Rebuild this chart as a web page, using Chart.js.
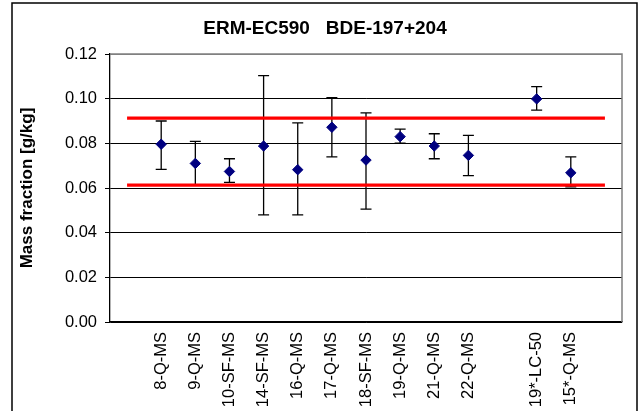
<!DOCTYPE html>
<html>
<head>
<meta charset="utf-8">
<title>ERM-EC590 BDE-197+204</title>
<script src="https://cdn.jsdelivr.net/npm/chart.js@4"></script>
<style>
  html, body { margin: 0; padding: 0; background: #fff; }
  canvas { display: block; }
</style>
</head>
<body>
<canvas id="massChart" width="641" height="411"></canvas>
<script>
// Labs along the x axis (blank slots leave the gaps)
const labs = ['', '8-Q-MS', '9-Q-MS', '10-SF-MS', '14-SF-MS', '16-Q-MS', '17-Q-MS',
  '18-SF-MS', '19-Q-MS', '21-Q-MS', '22-Q-MS', '', '19*-LC-50', '15*-Q-MS', ''];

// Reported means and the ends of their uncertainty bars, g/kg
const means   = [null, 0.0796, 0.0710, 0.0674, 0.0788, 0.0682, 0.0872, 0.0725, 0.0830, 0.0788, 0.0746, null, 0.0999, 0.0668, null];
const errLow  = [null, 0.0683, 0.0612, 0.0625, 0.0480, 0.0480, 0.0739, 0.0505, 0.0801, 0.0731, 0.0655, null, 0.0949, 0.0605, null];
const errHigh = [null, 0.0900, 0.0809, 0.0731, 0.1103, 0.0892, 0.1004, 0.0936, 0.0864, 0.0843, 0.0836, null, 0.1054, 0.0739, null];

// Red limit lines
const upperLimit = [0.0913, 0.0913, 0.0913, 0.0913, 0.0913, 0.0913, 0.0913, 0.0913, 0.0913, 0.0913, 0.0913, 0.0913, 0.0913, 0.0913, 0.0913];
const lowerLimit = [0.0613, 0.0613, 0.0613, 0.0613, 0.0613, 0.0613, 0.0613, 0.0613, 0.0613, 0.0613, 0.0613, 0.0613, 0.0613, 0.0613, 0.0613];

const yTickLabels = ['0.00', '0.02', '0.04', '0.06', '0.08', '0.10', '0.12'];

Chart.defaults.font.family = 'Arial, "Liberation Sans", sans-serif';
Chart.defaults.color = '#000';

// outer frame + grey top/right edge of the plot
const framePlugin = {
  id: 'frame',
  beforeDraw(chart) {
    const ctx = chart.ctx;
    ctx.save();
    ctx.fillStyle = '#fff';
    ctx.fillRect(0, 0, chart.width, chart.height);
    ctx.strokeStyle = '#000';
    ctx.lineWidth = 1.5;
    ctx.beginPath();
    ctx.moveTo(12, chart.height + 2);
    ctx.lineTo(12, 3);
    ctx.lineTo(637, 3);
    ctx.lineTo(637, chart.height + 2);
    ctx.stroke();
    ctx.restore();
  },
  beforeDatasetsDraw(chart) {
    const {ctx, chartArea: a} = chart;
    ctx.save();
    ctx.strokeStyle = '#808080';
    ctx.lineWidth = 1.5;
    ctx.beginPath();
    ctx.moveTo(a.left, a.top);
    ctx.lineTo(a.right, a.top);
    ctx.lineTo(a.right, a.bottom);
    ctx.stroke();
    ctx.restore();
  }
};

// vertical error bars with caps, under the markers
const errorBarPlugin = {
  id: 'errorBars',
  beforeDatasetsDraw(chart) {
    const ctx = chart.ctx;
    const xs = chart.scales.x, ys = chart.scales.y;
    const cap = 5.5;
    ctx.save();
    ctx.strokeStyle = '#000';
    ctx.lineWidth = 1.3;
    means.forEach((m, i) => {
      if (m === null) return;
      const x = xs.getPixelForValue(i);
      const yLo = ys.getPixelForValue(errLow[i]);
      const yHi = ys.getPixelForValue(errHigh[i]);
      ctx.beginPath();
      ctx.moveTo(x, yLo); ctx.lineTo(x, yHi);
      ctx.moveTo(x - cap, yLo); ctx.lineTo(x + cap, yLo);
      ctx.moveTo(x - cap, yHi); ctx.lineTo(x + cap, yHi);
      ctx.stroke();
    });
    ctx.restore();
  }
};

new Chart(document.getElementById('massChart'), {
  type: 'line',
  data: {
    labels: labs,
    datasets: [
      {
        label: 'Mean',
        data: means,
        showLine: false,
        pointStyle: 'rectRot',
        pointRadius: 5.2,
        pointBackgroundColor: '#000080',
        pointBorderColor: '#000080',
        pointBorderWidth: 1
      },
      {
        label: 'Upper',
        data: upperLimit,
        borderColor: '#ff0000',
        borderWidth: 3.2,
        pointRadius: 0
      },
      {
        label: 'Lower',
        data: lowerLimit,
        borderColor: '#ff0000',
        borderWidth: 3.2,
        pointRadius: 0
      }
    ]
  },
  options: {
    responsive: false,
    animation: false,
    layout: { padding: { left: 9, right: 0, top: 0, bottom: 0 } },
    plugins: {
      legend: { display: false },
      tooltip: { enabled: false },
      title: {
        display: true,
        text: 'ERM-EC590   BDE-197+204',
        font: { size: 19, weight: 'bold' },
        color: '#000',
        padding: { top: 17.6, bottom: 13.6 }
      }
    },
    scales: {
      x: {
        type: 'category',
        offset: true,
        grid: { display: false, drawTicks: false },
        border: { color: '#000', width: 1.3 },
        ticks: {
          autoSkip: false,
          minRotation: 90,
          maxRotation: 90,
          padding: 10,
          font: { size: 16.5 }
        },
        afterFit: s => { s.height = 89; }
      },
      y: {
        min: 0,
        max: 0.12,
        grid: {
          color: c => (c.tick && c.tick.value > 0.119 ? '#808080' : '#000'),
          tickColor: '#000',
          tickLength: 5,
          lineWidth: 1
        },
        border: { color: '#000', width: 1.3 },
        ticks: {
          stepSize: 0.02,
          padding: 8,
          font: { size: 16.5 },
          callback: (v, i) => yTickLabels[i]
        },
        title: {
          display: true,
          text: 'Mass fraction [g/kg]',
          font: { size: 17, weight: 'bold' },
          padding: { top: 8, bottom: 0 }
        },
        afterFit: s => { s.width = 101; }
      },
      y2: {
        position: 'right',
        display: true,
        grid: { display: false, drawTicks: false },
        border: { display: false },
        ticks: { display: false },
        afterFit: s => { s.width = 19; }
      }
    }
  },
  plugins: [framePlugin, errorBarPlugin]
});
</script>
</body>
</html>
